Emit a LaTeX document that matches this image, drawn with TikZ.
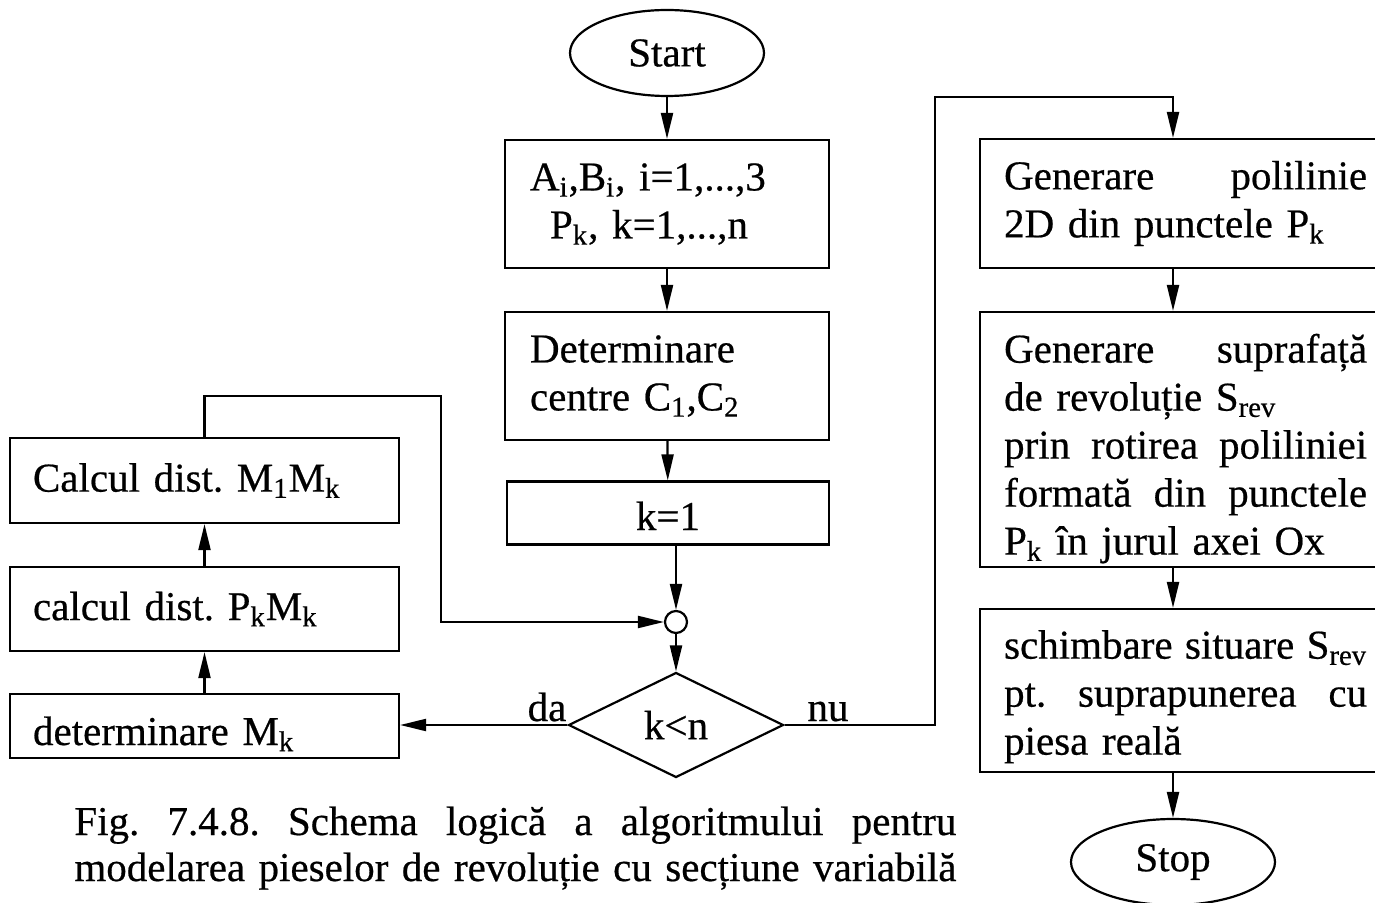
\documentclass[tikz,border=0pt]{standalone}
\usepackage{fontspec}
\setmainfont{Liberation Serif}[FakeBold=0.5]
\usetikzlibrary{shapes.geometric,arrows.meta}

\newlength\rtw
\setlength\rtw{181.5pt}
% full-width line in the right column (align=left makes spaces rigid)
\newcommand\jline[1]{{\spaceskip=0pt\xspaceskip=0pt\makebox[\rtw][s]{#1}}}

\tikzset{
    box/.style={draw, rectangle, line width=1.1pt, inner ysep=0pt, align=left},
    term/.style={draw, ellipse, line width=1.1pt, inner sep=0pt},
    arr/.style={line width=1.1pt, -{Triangle[length=13pt,width=6pt]}},
    lbl/.style={inner sep=0pt, anchor=base}
}

\begin{document}
\frenchspacing
\begin{tikzpicture}[x=0.5pt, y=-0.5pt,
    every node/.style={font=\fontsize{20.5pt}{24pt}\selectfont}]
        \useasboundingbox (0,0) rectangle (1375,903);

        % Nodes
        \node[term, minimum width=97pt, minimum height=43pt] (start) at (667,53) {Start};
        \node[box, minimum width=162pt, minimum height=64pt, text width=137pt, inner xsep=12.5pt]
            (init) at (667,204)
            {A\textsubscript{i},B\textsubscript{i}, i=1,...,3\\\hspace*{10pt}P\textsubscript{k}, k=1,...,n};
        \node[box, minimum width=162pt, minimum height=64pt, text width=137pt, inner xsep=12.5pt]
            (centr) at (667,376)
            {Determinare\\centre C\textsubscript{1},C\textsubscript{2}};
        \node[box, align=center, minimum width=161pt, minimum height=31.5pt, text width=136pt, inner xsep=12.5pt,
            text height=17pt, text depth=0pt]
            (kone) at (668,513) {k=1};
        \node[draw, circle, line width=1.1pt, minimum size=11pt, inner sep=0pt] (junc) at (676,622) {};
        \node[draw, diamond, line width=1.1pt, minimum width=107.5pt, minimum height=52.5pt, inner sep=0pt]
            (dec) at (676,725) {k<n};

        \node[box, minimum width=194.5pt, minimum height=42.5pt, text width=171.5pt, inner xsep=11.5pt]
            (dist1) at (204.5,480.5) {Calcul dist. M\textsubscript{1}M\textsubscript{k}};
        \node[box, minimum width=194.5pt, minimum height=42pt, text width=171.5pt, inner xsep=11.5pt]
            (dist2) at (204.5,609) {calcul dist. P\textsubscript{k}M\textsubscript{k}};
        \node[box, minimum width=194.5pt, minimum height=32pt, text width=171.5pt, inner xsep=11.5pt,
            text height=19pt, text depth=0pt]
            (detm) at (204.5,726) {determinare M\textsubscript{k}};

        \node[box, anchor=west, minimum height=64.5pt, text width=\rtw, inner xsep=12pt]
            (gen1) at (979,203.5)
            {\jline{Generare polilinie}\\2D din punctele P\textsubscript{k}};
        \node[box, anchor=west, minimum height=127.5pt, text width=\rtw, inner xsep=12pt, text height=23.5pt]
            (gen2) at (979,439.5)
            {\jline{Generare suprafață}\\de revoluție S\textsubscript{rev}\\\jline{prin rotirea poliliniei}\\\jline{formată din punctele}\\P\textsubscript{k} în jurul axei Ox};
        \node[box, anchor=west, minimum height=81.5pt, text width=\rtw, inner xsep=12pt, text height=20.5pt]
            (gen3) at (979,690.5)
            {\jline{schimbare situare S\textsubscript{rev}}\\\jline{pt. suprapunerea cu}\\piesa reală};
        \node[term, minimum width=102pt, minimum height=43pt] (stop) at (1173,862) {Stop};

        \node[lbl] (da) at (547,721) {da};
        \node[lbl] (nu) at (828,721) {nu};

        \node[inner sep=0pt, anchor=base west] (cap1) at (74,835)
            {\makebox[441pt][s]{Fig. 7.4.8. Schema logică a algoritmului pentru}};
        \node[inner sep=0pt, anchor=base west] (cap2) at (74,881)
            {\makebox[441pt][s]{modelarea pieselor de revoluție cu secțiune variabilă}};

        % Edges
        \coordinate (loop) at (441,396);
        \coordinate (exit) at (935,97);

        \draw[arr] (start) -- (init);
        \draw[arr] (init) -- (centr);
        \draw[arr] (centr) -- (kone);
        \draw[arr] (kone.south -| junc) -- (junc);
        \draw[arr] (junc) -- (dec);
        \draw[arr] (dec.west) -- (dec.west -| detm.east);
        \draw[arr] (detm) -- (dist2);
        \draw[arr] (dist2) -- (dist1);
        \draw[arr] (dist1.north) |- (loop) |- (junc.west);
        \draw[arr] (dec.east) -| (exit) -| (gen1.north -| stop);
        \draw[arr] (gen1.south -| stop) -- (gen2.north -| stop);
        \draw[arr] (gen2.south -| stop) -- (gen3.north -| stop);
        \draw[arr] (gen3.south -| stop) -- (stop);
    \end{tikzpicture}
\end{document}
